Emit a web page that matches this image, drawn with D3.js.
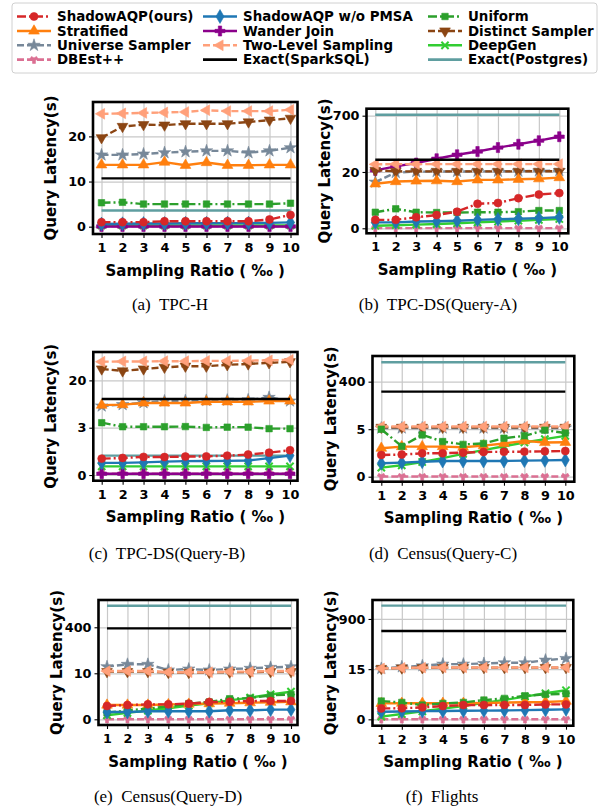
<!DOCTYPE html>
<html>
<head>
<meta charset="utf-8">
<script src="https://cdn.jsdelivr.net/npm/d3@7"></script>
<style>
body { margin: 0; background: #fff; }
</style>
</head>
<body>
<div id="chart"></div>
<script>
// sampling ratios on the x axis (per mille)
var ratios = [1, 2, 3, 4, 5, 6, 7, 8, 9, 10];

var panelNames = ['(a)  TPC-H', '(b)  TPC-DS(Query-A)', '(c)  TPC-DS(Query-B)',
                  '(d)  Census(Query-C)', '(e)  Census(Query-D)', '(f)  Flights'];

// y ticks of each panel (the axes are piecewise, one equal step per tick interval)
var yTicks = [[0, 10, 20], [0, 20, 700], [0, 3, 20], [0, 5, 400], [0, 10, 400], [0, 15, 900]];

// latency (s), one row per panel a..f
var shadowAQP = [
    [1.0, 1.0, 1.0, 1.2, 1.2, 1.2, 1.2, 1.2, 1.6, 2.6],
    [3.0, 3.0, 3.9, 4.7, 5.9, 8.7, 9.0, 10.7, 12.0, 12.5],
    [1.04, 1.08, 1.15, 1.14, 1.17, 1.18, 1.23, 1.3, 1.42, 1.57],
    [2.29, 2.33, 2.46, 2.47, 2.53, 2.6, 2.62, 2.64, 2.67, 2.7],
    [2.9, 3.1, 3.25, 3.25, 3.4, 3.75, 3.8, 3.97, 3.97, 4.0],
    [3.27, 3.3, 3.57, 3.96, 4.26, 4.26, 4.3, 4.3, 4.46, 4.46]
];
var shadowNoPMSA = [
    [0.6, 0.65, 0.7, 0.7, 0.75, 0.75, 0.8, 0.8, 0.85, 0.95],
    [2.1, 2.1, 2.4, 2.5, 2.7, 3.0, 3.2, 3.4, 3.6, 3.9],
    [0.77, 0.77, 0.8, 0.85, 0.88, 0.89, 0.9, 0.92, 1.07, 1.23],
    [1.41, 1.48, 1.58, 1.65, 1.65, 1.65, 1.66, 1.69, 1.72, 1.76],
    [1.58, 1.6, 1.74, 1.74, 1.75, 1.76, 1.95, 1.95, 2.1, 2.1],
    [2.27, 2.35, 2.45, 2.5, 2.55, 2.6, 2.65, 2.75, 2.85, 2.98]
];
var uniform = [
    [5.3, 5.4, 5.0, 5.0, 5.0, 5.0, 5.0, 5.0, 5.0, 5.2],
    [5.7, 6.9, 5.7, 5.6, 5.6, 5.7, 5.7, 5.9, 6.3, 6.3],
    [4.8, 3.36, 3.36, 3.36, 3.4, 3.1, 3.2, 3.2, 2.94, 2.94],
    [5.0, 3.2, 4.4, 3.7, 3.4, 3.5, 4.05, 4.3, 4.9, 4.6],
    [1.43, 1.95, 2.3, 2.82, 3.4, 3.75, 4.47, 4.6, 5.2, 5.4],
    [5.45, 5.06, 4.26, 4.76, 5.06, 5.75, 6.26, 7.03, 7.45, 7.63]
];
var stratified = [
    [13.7, 13.7, 13.7, 14.3, 13.6, 14.2, 13.6, 13.6, 13.7, 13.7],
    [15.8, 16.6, 16.8, 16.9, 16.6, 17.2, 17.2, 17.4, 17.6, 18.0],
    [11.1, 11.3, 11.9, 11.9, 11.9, 12.3, 12.3, 12.3, 12.6, 12.6],
    [3.0, 3.17, 3.17, 3.17, 3.1, 3.27, 3.5, 3.77, 3.6, 3.62],
    [3.1, 3.1, 3.1, 3.2, 3.3, 3.4, 3.5, 3.6, 3.7, 3.8],
    [4.76, 4.8, 4.8, 4.8, 4.8, 4.9, 5.0, 5.1, 5.2, 5.45]
];
var wanderJoin = [
    [0.05, 0.05, 0.05, 0.05, 0.05, 0.05, 0.05, 0.05, 0.05, 0.05],
    [39, 87, 128, 180, 228, 267, 315, 355, 398, 446],
    [0.08, 0.08, 0.08, 0.08, 0.08, 0.08, 0.08, 0.08, 0.08, 0.08],
    null, null, null
];
var distinct = [
    [19.7, 22.2, 22.6, 22.5, 22.8, 22.8, 22.8, 23.2, 23.6, 24.0],
    [40, 28, 27, 27, 27, 27, 27, 28, 28, 28],
    [24.1, 23.4, 24.1, 24.7, 25.1, 25.1, 25.6, 25.9, 26.3, 26.7],
    [20, 20, 20, 20, 20, 20, 20, 20, 20, 20],
    [24, 24, 24, 17, 17, 17, 20, 20, 24, 24],
    [27, 35, 40, 42, 42, 42, 42, 42, 42, 42]
];
var universe = [
    [15.9, 15.9, 16.1, 16.4, 16.6, 16.8, 16.8, 16.4, 16.8, 17.5],
    [16.4, 19.8, 24, 25, 26, 27, 28, 30, 32, 36],
    [10.8, 11.3, 12.0, 12.6, 12.7, 12.8, 12.9, 13.0, 13.9, 12.6],
    [14, 15, 15, 15, 15, 15, 15, 15, 15, 15],
    [66, 86, 86, 38, 46, 38, 46, 52, 60, 66],
    [27, 56, 74, 104, 104, 115, 127, 127, 174, 203]
];
var twoLevel = [
    [25.0, 25.1, 25.2, 25.3, 25.4, 25.8, 25.6, 25.6, 25.6, 25.9],
    [112, 115, 115, 115, 115, 115, 115, 115, 115, 115],
    [26.7, 26.8, 26.8, 26.9, 26.9, 27.0, 27.0, 27.1, 27.2, 27.4],
    [27, 27, 27, 27, 27, 27, 27, 27, 27, 27],
    [29, 29, 29, 19, 19, 19, 24, 24, 29, 29],
    [27, 37, 42, 45, 45, 45, 45, 45, 45, 45]
];
var deepGen = [
    [0.3, 0.3, 0.3, 0.3, 0.3, 0.3, 0.3, 0.3, 0.3, 0.3],
    [0.9, 1.1, 1.3, 1.5, 1.8, 2.1, 2.4, 2.7, 3.0, 3.3],
    [0.55, 0.55, 0.55, 0.55, 0.55, 0.55, 0.55, 0.55, 0.55, 0.55],
    [0.95, 1.2, 1.55, 1.95, 2.4, 2.8, 3.2, 3.6, 3.95, 4.3],
    [0.87, 1.4, 1.9, 2.4, 3.0, 3.5, 4.1, 4.7, 5.4, 6.0],
    [0.8, 1.6, 2.4, 3.2, 4.0, 4.9, 5.8, 6.8, 7.8, 8.7]
];
var dbest = [
    [0.1, 0.1, 0.1, 0.1, 0.1, 0.1, 0.1, 0.1, 0.1, 0.1],
    [0.05, 0.05, 0.05, 0.05, 0.05, 0.05, 0.05, 0.05, 0.05, 0.05],
    [0.08, 0.08, 0.08, 0.08, 0.08, 0.08, 0.08, 0.08, 0.08, 0.08],
    [0.02, 0.02, 0.02, 0.02, 0.02, 0.02, 0.02, 0.02, 0.02, 0.02],
    [0.02, 0.02, 0.02, 0.02, 0.02, 0.02, 0.02, 0.02, 0.02, 0.02],
    [0.02, 0.02, 0.02, 0.02, 0.02, 0.02, 0.02, 0.02, 0.02, 0.02]
];
var exactSpark = [10.7, 168, 13.3, 317, 391, 688];
var exactPostgres = [3.6, 712, 1.23, 561, 583, 1135];

// ---- styles and layout ----
var width = 604, height = 809;
var sans = '"DejaVu Sans", sans-serif';

var dashDot = '9,3,2,3', dashed = '7,3';
var series = [
    {name: 'ShadowAQP(ours)', data: shadowAQP, color: '#d62728', dash: dashDot, sym: 'circle'},
    {name: 'ShadowAQP w/o PMSA', data: shadowNoPMSA, color: '#1f77b4', dash: null, sym: 'diamond'},
    {name: 'Uniform', data: uniform, color: '#2ca02c', dash: dashDot, sym: 'square'},
    {name: 'Stratified', data: stratified, color: '#ff7f0e', dash: null, sym: 'triUp'},
    {name: 'Wander Join', data: wanderJoin, color: '#8b008b', dash: null, sym: 'plus'},
    {name: 'Distinct Sampler', data: distinct, color: '#8b4513', dash: dashed, sym: 'triDown'},
    {name: 'Universe Sampler', data: universe, color: '#778899', dash: dashed, sym: 'star'},
    {name: 'Two-Level Sampling', data: twoLevel, color: '#ffa07a', dash: dashed, sym: 'triLeft'},
    {name: 'DeepGen', data: deepGen, color: '#32cd32', dash: null, sym: 'x'},
    {name: 'DBEst++', data: dbest, color: '#db7093', dash: dashed, sym: 'wye'},
    {name: 'Exact(SparkSQL)', exact: exactSpark, color: '#000000'},
    {name: 'Exact(Postgres)', exact: exactPostgres, color: '#5f9ea0'}
];
// bottom to top
var drawOrder = [11, 9, 8, 4, 6, 5, 7, 3, 2, 1, 0, 10];

// frame boxes, x of first/last ratio, padding below 0 / above top tick in tick steps
var panels = [
    {l: 93, t: 102, r: 297.5, b: 234, x1: 101.5, x10: 290.5, padLo: 0.162, padHi: 0.762, cap: 170, capY: 310},
    {l: 366.5, t: 108.7, r: 568.3, b: 233.3, x1: 375.3, x10: 559.3, padLo: 0.089, padHi: 0.124, cap: 438, capY: 310},
    {l: 93.3, t: 352, r: 297.5, b: 480.7, x1: 101.7, x10: 290, padLo: 0.12, padHi: 0.6, cap: 167, capY: 559},
    {l: 372.5, t: 356, r: 574.3, b: 481.7, x1: 381.3, x10: 565.3, padLo: 0.105, padHi: 0.54, cap: 443, capY: 559},
    {l: 98.5, t: 600, r: 297.5, b: 725, x1: 107, x10: 291, padLo: 0.124, padHi: 0.593, cap: 168, capY: 802},
    {l: 372.5, t: 600, r: 573.3, b: 725.7, x1: 381.3, x10: 566, padLo: 0.127, padHi: 0.378, cap: 442, capY: 802}
];

var symbolTypes = {
    circle: [d3.symbolCircle, 50, 0],
    diamond: [d3.symbolDiamond, 56, 0],
    square: [d3.symbolSquare, 42, 0],
    triUp: [d3.symbolTriangle, 50, 0],
    triDown: [d3.symbolTriangle, 50, 180],
    triLeft: [d3.symbolTriangle, 50, -90],
    plus: [d3.symbolCross, 56, 0],
    star: [d3.symbolStar, 48, 0],
    x: [d3.symbolX, 36, 0],
    wye: [d3.symbolWye, 30, 0]
};

var svg = d3.select('#chart')
    .append('svg')
    .attr('width', width)
    .attr('height', height);

function drawMarker(g, s, cx, cy) {
    var st = symbolTypes[s.sym];
    var m = g.append('path')
        .attr('d', d3.symbol().type(st[0]).size(st[1])())
        .attr('transform', 'translate(' + cx + ',' + cy + ') rotate(' + st[2] + ')');
    if (s.sym === 'x') {
        m.attr('fill', 'none').attr('stroke', s.color).attr('stroke-width', 2);
    } else {
        m.attr('fill', s.color).attr('stroke', s.color).attr('stroke-width', 0.6);
    }
}

// ---- legend ----
var legend = svg.append('g');
legend.append('rect')
    .attr('x', 12).attr('y', 3)
    .attr('width', 585).attr('height', 70)
    .attr('rx', 3)
    .attr('fill', '#fff')
    .attr('stroke', '#d0d0d0');

var colX = [17, 203, 428], rowY = [16.5, 31, 45.3, 59.6];
series.forEach(function(s, i) {
    var hx = colX[i % 3], hy = rowY[Math.floor(i / 3)];
    var item = legend.append('g');
    item.append('line')
        .attr('x1', hx).attr('x2', hx + 34)
        .attr('y1', hy).attr('y2', hy)
        .attr('stroke', s.color)
        .attr('stroke-width', 2.6)
        .attr('stroke-dasharray', s.dash || null);
    if (s.sym) drawMarker(item, s, hx + 17, hy);
    item.append('text')
        .attr('x', hx + 40).attr('y', hy + 4.6)
        .style('font-family', sans)
        .style('font-size', '13.4px')
        .style('font-weight', 'bold')
        .text(s.name);
});

// ---- panels ----
panels.forEach(function(p, i) {
    var ticks = yTicks[i];
    var n = ticks.length - 1;
    var step = (p.b - p.t) / (n + p.padLo + p.padHi);
    var lo = ticks[0] - p.padLo * (ticks[1] - ticks[0]);
    var hi = ticks[n] + p.padHi * (ticks[n] - ticks[n - 1]);
    var y0 = p.b - p.padLo * step;

    var y = d3.scaleLinear()
        .domain([lo].concat(ticks, [hi]))
        .range([p.b].concat(ticks.map(function(d, k) { return y0 - k * step; }), [p.t]));
    var x = d3.scaleLinear().domain([1, 10]).range([p.x1, p.x10]);

    var g = svg.append('g');

    // grid
    g.append('g')
        .attr('transform', 'translate(' + p.l + ',0)')
        .call(d3.axisLeft(y).tickValues(ticks).tickSize(-(p.r - p.l)).tickFormat(''))
        .call(function(a) { a.select('.domain').remove(); })
        .selectAll('line').attr('stroke', '#c8c8c8').attr('stroke-width', 1.2);
    g.append('g')
        .attr('transform', 'translate(0,' + p.b + ')')
        .call(d3.axisBottom(x).tickValues(ratios).tickSize(-(p.b - p.t)).tickFormat(''))
        .call(function(a) { a.select('.domain').remove(); })
        .selectAll('line').attr('stroke', '#c8c8c8').attr('stroke-width', 1.2);

    // axes
    var ya = g.append('g')
        .attr('transform', 'translate(' + p.l + ',0)')
        .call(d3.axisLeft(y).tickValues(ticks).tickSize(4).tickPadding(3).tickFormat(d3.format('d')));
    var xa = g.append('g')
        .attr('transform', 'translate(0,' + p.b + ')')
        .call(d3.axisBottom(x).tickValues(ratios).tickSize(4).tickPadding(5).tickFormat(d3.format('d')));
    [ya, xa].forEach(function(a) {
        a.select('.domain').remove();
        a.selectAll('line').attr('stroke', '#000').attr('stroke-width', 1.1);
        a.selectAll('text')
            .attr('font-family', sans)
            .attr('font-size', 12.8)
            .attr('font-weight', 'bold')
            .attr('fill', '#000');
    });

    // clip
    var clipId = 'clip' + i;
    svg.append('clipPath').attr('id', clipId)
        .append('rect')
        .attr('x', p.l).attr('y', p.t)
        .attr('width', p.r - p.l).attr('height', p.b - p.t);
    var plot = g.append('g').attr('clip-path', 'url(#' + clipId + ')');

    var line = d3.line()
        .x(function(d, j) { return x(ratios[j]); })
        .y(function(d) { return y(d); });

    drawOrder.forEach(function(si) {
        var s = series[si];
        if (s.exact) {
            plot.append('line')
                .attr('x1', x(ratios[0])).attr('x2', x(ratios[ratios.length - 1]))
                .attr('y1', y(s.exact[i])).attr('y2', y(s.exact[i]))
                .attr('stroke', s.color)
                .attr('stroke-width', 2.4);
            return;
        }
        var vals = s.data[i];
        if (!vals) return;
        plot.append('path')
            .attr('d', line(vals))
            .attr('fill', 'none')
            .attr('stroke', s.color)
            .attr('stroke-width', 2.4)
            .attr('stroke-dasharray', s.dash || null);
        var mg = plot.append('g');
        vals.forEach(function(v, j) {
            drawMarker(mg, s, x(ratios[j]), y(v));
        });
    });

    // frame
    g.append('rect')
        .attr('x', p.l).attr('y', p.t)
        .attr('width', p.r - p.l).attr('height', p.b - p.t)
        .attr('fill', 'none')
        .attr('stroke', '#000')
        .attr('stroke-width', 2.6);

    // labels
    var cy = (p.t + p.b) / 2;
    g.append('text')
        .attr('transform', 'translate(' + (p.l - 37) + ',' + cy + ') rotate(-90)')
        .attr('text-anchor', 'middle')
        .style('font-family', sans)
        .style('font-size', '15px')
        .style('font-weight', 'bold')
        .text('Query Latency(s)');
    g.append('text')
        .attr('x', (p.l + p.r) / 2).attr('y', p.b + 41.5)
        .attr('text-anchor', 'middle')
        .style('font-family', sans)
        .style('font-size', '15px')
        .style('font-weight', 'bold')
        .text('Sampling Ratio ( \u2030 )');
    g.append('text')
        .attr('x', p.cap).attr('y', p.capY)
        .attr('text-anchor', 'middle')
        .style('font-family', '"Liberation Serif", serif')
        .style('font-size', '17px')
        .style('white-space', 'pre')
        .text(panelNames[i]);
});
</script>
</body>
</html>
